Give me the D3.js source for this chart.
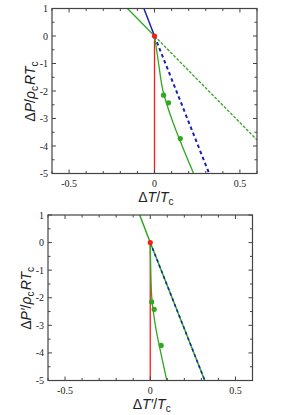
<!DOCTYPE html>
<html lang="en">
<head>
    <meta charset="UTF-8">
    <title>Phase boundary slopes</title>
    <script src="https://d3js.org/d3.v7.min.js"></script>
    <style>
        body { margin: 0; background: #fff; }
        .tick-label { font: 10px "Liberation Serif", "Times New Roman", serif; fill: #222; }
        .title { font: 14px "Liberation Sans", Arial, sans-serif; fill: #222; }
        .frame { fill: none; stroke: #444; stroke-width: 1.2; }
        .tick { stroke: #444; stroke-width: 1; }
    </style>
</head>
<body>
    <script>
        // Axis ticks (shared by both panels)
        const xDomain = [-0.6, 0.6];
        const yDomain = [-5, 1];
        const xTicks = [-0.5, 0, 0.5];
        const yTicks = [1, 0, -1, -2, -3, -4, -5];

        // Top panel: ΔP/ρcRTc vs ΔT/Tc, points are [ΔT/Tc, ΔP]
        const topBlueSolid = [[-0.062, 1], [0, 0]];
        const topBlueDash = [[0, 0], [0.32, -5]];
        const topGreenSolid = [[-0.158, 1], [0, 0]];
        const topGreenDash = [[0, 0], [0.6, -3.78]];
        const topGreenCurve = [[0, 0], [0.024, -1], [0.05, -2], [0.10, -3], [0.162, -4], [0.229, -5]];
        const topPoints = [[0.053, -2.15], [0.082, -2.43], [0.151, -3.73]];

        // Bottom panel: ΔP'/ρcRTc vs ΔT'/Tc
        const botGreenLine = [[-0.062, 1], [0, 0], [0.32, -5]];
        const botBlueDash = [[0, 0], [0.32, -5]];
        const botGreenCurve = [[0, 0], [0.003, -1], [0.009, -2], [0.03, -3], [0.062, -4], [0.097, -5]];
        const botPoints = [[0.008, -2.15], [0.023, -2.42], [0.064, -3.73]];

        // Red vertical line and critical point, both panels
        const redLine = [[0, 0], [0, -5]];
        const critPoint = [[0, 0]];

        const green = "#2ea81f";
        const blue = "#1a22b0";
        const red = "#ff1a1a";

        const svg = d3.select("body")
            .append("svg")
            .attr("width", 293)
            .attr("height", 415);

        function panel(box, yTitle, xTitle, drawData) {
            const x = d3.scaleLinear().domain(xDomain).range([box.left, box.right]);
            const y = d3.scaleLinear().domain(yDomain).range([box.bottom, box.top]);
            const g = svg.append("g");

            const clip = "clip" + Math.round(box.top);
            g.append("clipPath").attr("id", clip)
                .append("rect")
                .attr("x", box.left).attr("y", box.top)
                .attr("width", box.right - box.left).attr("height", box.bottom - box.top);

            const plot = g.append("g").attr("clip-path", `url(#${clip})`);
            drawData(plot, x, y);

            // frame
            g.append("rect").attr("class", "frame")
                .attr("x", box.left).attr("y", box.top)
                .attr("width", box.right - box.left).attr("height", box.bottom - box.top);

            // inward ticks, major and minor, on all four sides
            const xMinor = d3.range(-6, 7).map(d => d / 10);
            xMinor.forEach(v => {
                const major = xTicks.includes(v);
                const len = major ? 4 : 2.5;
                g.append("line").attr("class", "tick")
                    .attr("x1", x(v)).attr("x2", x(v))
                    .attr("y1", box.bottom).attr("y2", box.bottom - len);
                g.append("line").attr("class", "tick")
                    .attr("x1", x(v)).attr("x2", x(v))
                    .attr("y1", box.top).attr("y2", box.top + len);
            });
            const yMinor = d3.range(-10, 3).map(d => d / 2);
            yMinor.forEach(v => {
                const major = Number.isInteger(v);
                const len = major ? 4 : 2.5;
                g.append("line").attr("class", "tick")
                    .attr("x1", box.left).attr("x2", box.left + len)
                    .attr("y1", y(v)).attr("y2", y(v));
                g.append("line").attr("class", "tick")
                    .attr("x1", box.right).attr("x2", box.right - len)
                    .attr("y1", y(v)).attr("y2", y(v));
            });

            // tick labels
            g.selectAll(".xl").data(xTicks).enter()
                .append("text").attr("class", "tick-label")
                .attr("x", d => x(d)).attr("y", box.bottom + 13)
                .attr("text-anchor", "middle")
                .text(d => d === 0 ? "0" : d);
            g.selectAll(".yl").data(yTicks).enter()
                .append("text").attr("class", "tick-label")
                .attr("x", box.left - 4).attr("y", d => y(d) + 3.5)
                .attr("text-anchor", "end")
                .text(d => d);

            // x title
            const xt = g.append("text").attr("class", "title")
                .attr("x", (box.left + box.right) / 2 + 2).attr("y", box.bottom + 28)
                .attr("text-anchor", "middle");
            xTitle(xt);

            // y title
            const yt = g.append("text").attr("class", "title")
                .attr("transform", `translate(${box.left - 17},${(box.top + box.bottom) / 2}) rotate(-90)`)
                .attr("text-anchor", "middle");
            yTitle(yt);
        }

        function sub(t, s) {
            t.append("tspan").attr("font-size", 10).attr("dy", 3).text(s);
            t.append("tspan").attr("font-size", 14).attr("dy", -3).text("\u200A");
        }
        function it(t, s) { t.append("tspan").attr("font-style", "italic").text(s); }
        function plain(t, s) { t.append("tspan").text(s); }

        function line(g, x, y, pts, color, width, dash, curve) {
            g.append("path")
                .datum(pts)
                .attr("fill", "none")
                .attr("stroke", color)
                .attr("stroke-width", width)
                .attr("stroke-dasharray", dash || null)
                .attr("d", d3.line().x(d => x(d[0])).y(d => y(d[1])).curve(curve || d3.curveLinear));
        }
        function dots(g, x, y, pts, color, r) {
            g.selectAll(null).data(pts).enter()
                .append("circle")
                .attr("cx", d => x(d[0])).attr("cy", d => y(d[1]))
                .attr("r", r).attr("fill", color);
        }

        panel({ left: 52, right: 257, top: 8.5, bottom: 173.5 },
            t => { plain(t, "\u0394"); it(t, "P"); plain(t, "/"); it(t, "\u03C1"); sub(t, "c"); it(t, "RT"); sub(t, "c"); },
            t => { plain(t, "\u0394"); it(t, "T"); plain(t, "/"); it(t, "T"); sub(t, "c"); },
            (g, x, y) => {
                line(g, x, y, redLine, red, 1.3);
                line(g, x, y, topGreenDash, green, 1.3, "3,1.5");
                line(g, x, y, topGreenSolid, green, 1.3);
                line(g, x, y, topBlueSolid, blue, 1.5);
                line(g, x, y, topBlueDash, blue, 2, "3.5,3");
                line(g, x, y, topGreenCurve, green, 1.3, null, d3.curveMonotoneY);
                dots(g, x, y, topPoints, green, 2.6);
                dots(g, x, y, critPoint, red, 2.6);
            });

        panel({ left: 48, right: 252.5, top: 215, bottom: 380.5 },
            t => { plain(t, "\u0394"); it(t, "P\u2032"); plain(t, "/"); it(t, "\u03C1"); sub(t, "c"); it(t, "RT"); sub(t, "c"); },
            t => { plain(t, "\u0394"); it(t, "T\u2032"); plain(t, "/"); it(t, "T"); sub(t, "c"); },
            (g, x, y) => {
                line(g, x, y, redLine, red, 1.3);
                line(g, x, y, botGreenLine, green, 1.5);
                line(g, x, y, botBlueDash, blue, 1.6, "3,3");
                line(g, x, y, botGreenCurve, green, 1.3, null, d3.curveMonotoneY);
                dots(g, x, y, botPoints, green, 2.6);
                dots(g, x, y, critPoint, red, 2.6);
            });
    </script>
</body>
</html>
